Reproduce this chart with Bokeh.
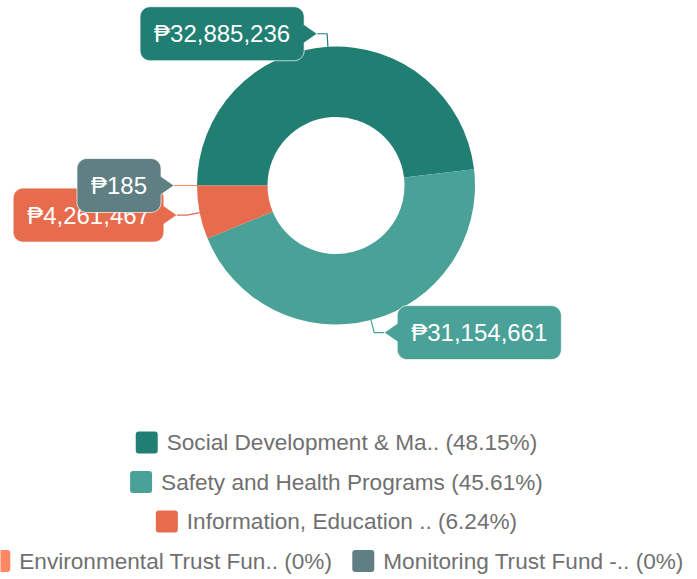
import math
from bokeh.plotting import figure
from bokeh.models import Range1d
from bokeh.core.properties import value
from bokeh.embed import file_html
from bokeh.resources import INLINE

# ---------------- data ----------------
NAMES = ["Social Development & Ma..", "Safety and Health Programs",
         "Information, Education ..", "Environmental Trust Fun..",
         "Monitoring Trust Fund -.."]
VALUES = [32885236, 31154661, 4261467, 0, 185]
COLORS = ["#217E73", "#49A197", "#E76B4D", "#FF8764", "#607F83"]

# ---------------- layout constants ----------------
W, H = 697, 579
CX, CY = 335.5, 185.0          # donut centre (page px)
R_OUT, R_IN = 139.0, 68.5
L1, L2, PTR = 13.0, 10.0, 13.0  # leader segment lengths, pointer depth
BOX_H, BOX_PAD, BOX_R = 54.0, 14.0, 10.0
LABEL_FS = 24.0
LEG_FS = 22.6
LEG_CX, LEG_Y0, LEG_DY = 336.0, 442.0, 39.5
SQ, SQ_GAP, ITEM_GAP, MAX_ROW = 22.0, 9.0, 19.0, 700.0
FONT = "Liberation Sans"

AW = {' ': 278, '%': 889, '&': 667, '(': 333, ')': 333, ',': 278, '-': 333, '.': 278,
      'A': 667, 'B': 667, 'C': 722, 'D': 722, 'E': 667, 'F': 611, 'G': 778, 'H': 722,
      'I': 278, 'M': 833, 'P': 667, 'S': 667, 'T': 611,
      'a': 556, 'b': 556, 'c': 500, 'd': 556, 'e': 556, 'f': 278, 'g': 556, 'h': 556,
      'i': 222, 'l': 222, 'm': 833, 'n': 556, 'o': 556, 'p': 556, 'r': 333, 's': 500,
      't': 278, 'u': 556, 'v': 500, 'y': 500, '\u20b1': 667}
for d in "0123456789":
    AW[d] = 556


def text_w(s, fs):
    return sum(AW.get(c, 556) for c in s) / 1000.0 * fs


def Y(py):
    return H - py


p = figure(width=W, height=H, output_backend="svg", toolbar_location=None,
           x_range=Range1d(0, W), y_range=Range1d(0, H),
           min_border=0, min_border_left=0, min_border_right=0,
           min_border_top=0, min_border_bottom=0)
p.axis.visible = False
p.grid.visible = False
p.outline_line_color = None
p.background_fill_color = "white"
p.border_fill_color = "white"

total = float(sum(VALUES))

# ---------------- donut ----------------
starts, ends, mids = [], [], []
a = math.pi
for v in VALUES:
    span = v / total * 2 * math.pi
    starts.append(a)
    ends.append(a - span)
    mids.append(a - span / 2)
    a -= span

for i, v in enumerate(VALUES):
    if v / total < 1e-4:
        continue
    p.annular_wedge(x=[CX], y=[Y(CY)], inner_radius=R_IN, outer_radius=R_OUT,
                    start_angle=[starts[i]], end_angle=[ends[i]], direction="clock",
                    fill_color=COLORS[i], line_color=None)

# ---------------- leader lines ----------------
geo = []
for i, v in enumerate(VALUES):
    m = mids[i]
    ax, ay = CX + R_OUT * math.cos(m), CY - R_OUT * math.sin(m)
    ex, ey = CX + (R_OUT + L1) * math.cos(m), CY - (R_OUT + L1) * math.sin(m)
    side = "right" if math.cos(m) >= 0 else "left"
    tx = ex + L2 if side == "right" else ex - L2
    ty = ey
    geo.append((ax, ay, ex, ey, tx, ty, side))

for i in reversed(range(len(VALUES))):
    ax, ay, ex, ey, tx, ty, side = geo[i]
    p.line(x=[ax, ex, tx], y=[Y(ay), Y(ey), Y(ty)], line_color=COLORS[i],
           line_width=1.2)


def box_poly(x0, y0, x1, y1, r, ptr_edge, tipx, tipy, half=9.0, n=8):
    pts = []

    def arc(cx, cy, a0, a1):
        for k in range(n + 1):
            t = math.radians(a0 + (a1 - a0) * k / n)
            pts.append((cx + r * math.cos(t), cy + r * math.sin(t)))

    arc(x1 - r, y0 + r, -90, 0)
    if ptr_edge == "right":
        pts += [(x1, tipy - half), (tipx, tipy), (x1, tipy + half)]
    arc(x1 - r, y1 - r, 0, 90)
    arc(x0 + r, y1 - r, 90, 180)
    if ptr_edge == "left":
        pts += [(x0, tipy + half), (tipx, tipy), (x0, tipy - half)]
    arc(x0 + r, y0 + r, 180, 270)
    return [q[0] for q in pts], [Y(q[1]) for q in pts]


# ---------------- value labels ----------------
for i, v in enumerate(VALUES):
    if v <= 0:
        continue
    ax, ay, ex, ey, tx, ty, side = geo[i]
    txt = "\u20b1" + f"{v:,}"
    bw = text_w(txt, LABEL_FS) + 2 * BOX_PAD
    if side == "left":
        x1 = tx - PTR
        x0 = x1 - bw
        ptr_edge = "right"
    else:
        x0 = tx + PTR
        x1 = x0 + bw
        ptr_edge = "left"
    y0, y1 = ty - BOX_H / 2, ty + BOX_H / 2
    xs, ys = box_poly(x0, y0, x1, y1, BOX_R, ptr_edge, tx, ty)
    p.patch(x=xs, y=ys, fill_color=COLORS[i], line_color="white",
            line_alpha=0.7, line_width=1)
    p.text(x=[(x0 + x1) / 2], y=[Y(ty)], text=[txt], text_align="center",
           text_baseline="middle", text_color="white",
           text_font=value(FONT), text_font_size=value(f"{LABEL_FS}px"))

# ---------------- legend ----------------
items = []
for i, v in enumerate(VALUES):
    pct = v / total * 100
    ps = f"{pct:.2f}".rstrip("0").rstrip(".")
    label = f"{NAMES[i]} ({ps}%)"
    tw = text_w(label, LEG_FS)
    items.append((i, label, SQ + SQ_GAP + tw))

rows, cur, cur_w = [], [], 0.0
for it in items:
    add = it[2] if not cur else ITEM_GAP + it[2]
    if cur and cur_w + add > MAX_ROW:
        rows.append(cur)
        cur, cur_w = [it], it[2]
    else:
        cur.append(it)
        cur_w += add
if cur:
    rows.append(cur)

for r_i, row in enumerate(rows):
    tot = sum(it[2] for it in row) + ITEM_GAP * (len(row) - 1)
    x = LEG_CX - tot / 2
    yc = LEG_Y0 + r_i * LEG_DY
    for (i, label, w) in row:
        p.quad(left=[x], right=[x + SQ], top=[Y(yc - SQ / 2)], bottom=[Y(yc + SQ / 2)],
               fill_color=COLORS[i], line_color=None, border_radius=3)
        p.text(x=[x + SQ + SQ_GAP], y=[Y(yc)], text=[label], text_align="left",
               text_baseline="middle", text_color="#707070",
               text_font=value(FONT), text_font_size=value(f"{LEG_FS}px"))
        x += w + ITEM_GAP

open("out.html", "w").write(file_html(p, INLINE))
